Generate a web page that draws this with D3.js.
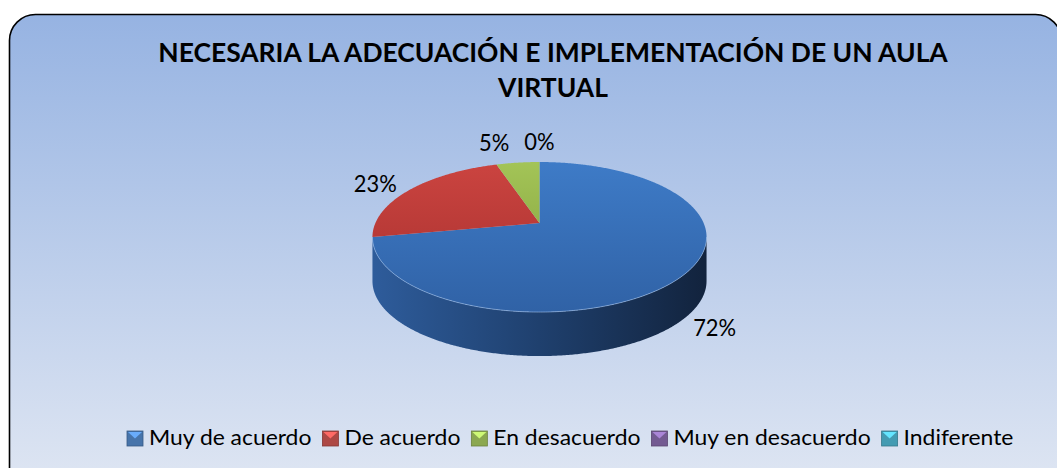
<!DOCTYPE html>
<html><head><meta charset="utf-8">
<script src="https://cdn.jsdelivr.net/npm/d3@7"></script>
<style>body{margin:0;background:#fff}</style>
</head><body>
<svg id="c" width="1057" height="468"></svg>
<script>
// ---- data ----
const titleLines = ["NECESARIA LA ADECUACIÓN E IMPLEMENTACIÓN DE UN AULA", "VIRTUAL"];
const categories = ["Muy de acuerdo", "De acuerdo", "En desacuerdo", "Muy en desacuerdo", "Indiferente"];
const values = [72, 23, 5, 0, null];
const valueLabels = ["72%", "23%", "5%", "0%", ""];
const baseColors = ["#4f81bd", "#c0504d", "#9bbb59", "#8064a2", "#4bacc6"];
const topColors = [["#3e7bc7", "#3062a6"], ["#cb4440", "#a52f2d"], ["#a3c457", "#7e9b38"], ["#8a6db0", "#5f4680"], ["#56b8d2", "#2f8aa3"]];
const sideColors = [["#2e5c9b", "#1f406e", "#12233d"], ["#9c2d2a", "#76201f", "#4a1312"], ["#7a9a39", "#5b7429", "#3a4b1a"], ["#5f4680", "#46335f", "#2c203c"], ["#2f8aa3", "#226577", "#15404c"]];

const FONT = "Lato, 'Open Sans', sans-serif";
const svg = d3.select("#c");
const defs = svg.append("defs");

function measure(str, size, weight) {
  const t = svg.append("text").attr("font-family", FONT).attr("font-size", size)
    .attr("font-weight", weight || "normal").text(str);
  const w = t.node().getComputedTextLength(); t.remove(); return w;
}
const CAP = 0.7165; // Lato cap-height ratio

// ---- background box ----
const bg = defs.append("linearGradient").attr("id", "bg").attr("gradientUnits", "userSpaceOnUse")
  .attr("x1", 0).attr("y1", 14).attr("x2", 0).attr("y2", 468);
bg.append("stop").attr("offset", 0).attr("stop-color", "#96b3e2");
bg.append("stop").attr("offset", 1).attr("stop-color", "#dce4f2");
svg.append("rect").attr("x", 9.5).attr("y", 14.5).attr("width", 1052).attr("height", 490).attr("rx", 26)
  .attr("fill", "url(#bg)").attr("stroke", "#000").attr("stroke-width", 1.6);

// ---- title ----
const titleW = 790, titleCX = 553;
const tfs = 24 * titleW / measure(titleLines[0], 24, "bold");
const tsy = 19 / (CAP * tfs);
titleLines.forEach((line, i) => {
  svg.append("text").attr("transform", `translate(${titleCX},${62 + i * 35}) scale(1,${tsy})`)
    .attr("text-anchor", "middle").attr("font-family", FONT).attr("font-weight", "bold")
    .attr("font-size", tfs).attr("fill", "#000").text(line);
});

// ---- 3D pie with perspective ----
const cx = 539.5, cy = 223, rxs = 164.1, rys = 72.4, persp = 0.187, depth = 44;
const data = categories.map((c, i) => ({ c, v: values[i], i })).filter(d => d.v !== null);
const arcs = d3.pie().sort(null).value(d => d.v).startAngle(0).endAngle(2 * Math.PI)(data);
// project a point of the unit circle (angle clockwise from 12 o'clock)
const P = (a, dy = 0) => {
  const s = Math.sin(a), c = Math.cos(a), w = 1 + persp * c;
  return [cx + rxs * s / w, cy - rys * c / w + dy];
};
const sample = (a0, a1, dy = 0) => {
  const n = Math.max(2, Math.ceil(Math.abs(a1 - a0) / (Math.PI / 360)));
  return d3.range(n + 1).map(k => P(a0 + (a1 - a0) * k / n, dy));
};
const line = d3.line();
const silL = Math.acos(-persp), silR = 2 * Math.PI - Math.acos(-persp); // silhouette angles

arcs.forEach(a => {
  const i = a.data.i;
  const sg = defs.append("linearGradient").attr("id", "side" + i).attr("gradientUnits", "userSpaceOnUse")
    .attr("x1", cx - 167).attr("y1", 0).attr("x2", cx + 167).attr("y2", 0);
  sideColors[i].forEach((col, k) => sg.append("stop").attr("offset", k / 2).attr("stop-color", col));
  const tg = defs.append("linearGradient").attr("id", "top" + i).attr("gradientUnits", "userSpaceOnUse")
    .attr("x1", 0).attr("y1", 162).attr("x2", 0).attr("y2", 312);
  tg.append("stop").attr("offset", 0).attr("stop-color", topColors[i][0]);
  tg.append("stop").attr("offset", 1).attr("stop-color", topColors[i][1]);
});

const g = svg.append("g");
// visible side walls
arcs.forEach(a => {
  const s = Math.max(a.startAngle, silL), e = Math.min(a.endAngle, silR);
  if (e <= s) return;
  const pts = sample(s, e).concat(sample(e, s, depth));
  g.append("path").attr("d", line(pts) + "Z").attr("fill", `url(#side${a.data.i})`);
});
// top faces
arcs.forEach(a => {
  if (a.endAngle - a.startAngle <= 0) return;
  const pts = [[cx, cy]].concat(sample(a.startAngle, a.endAngle));
  g.append("path").attr("d", line(pts) + "Z").attr("fill", `url(#top${a.data.i})`);
});
// rim highlight
g.append("path").attr("d", line(sample(silL, silR)))
  .attr("fill", "none").attr("stroke", "rgba(170,200,240,0.55)").attr("stroke-width", 1);

// ---- data labels ----
const lfs = 24 * 43 / measure("72%", 24);
const lH = 17, lsy = lH / (CAP * lfs);
const labs = arcs.map(a => {
  const m = (a.startAngle + a.endAngle) / 2;
  const c = Math.cos(m), s = Math.sin(m);
  const p = P(m, c < 0 ? depth : 0);
  return {
    text: valueLabels[a.data.i],
    x: p[0] + 41 * s,
    y: p[1] - 21 * c * Math.abs(c) + lH / 2,
    w: measure(valueLabels[a.data.i], lfs)
  };
});
for (let k = labs.length - 2; k >= 0; k--) {
  const a = labs[k], b = labs[k + 1];
  if (Math.abs(a.y - b.y) < 20 && Math.abs(a.x - b.x) < (a.w + b.w) / 2 + 15) {
    a.x = b.x - (a.w + b.w) / 2 - 15;
  }
}
labs.forEach(l => {
  svg.append("text").attr("transform", `translate(${l.x},${l.y}) scale(1,${lsy})`)
    .attr("text-anchor", "middle").attr("font-family", FONT).attr("font-size", lfs)
    .attr("fill", "#000").text(l.text);
});

// ---- legend ----
const legLeft = 127, legTotal = 887, mW = 16, mH = 15, mGap = 6, iGap = 11, legBase = 445;
const rawTotal = categories.reduce((s, c) => s + measure(c, 20), 0);
const gfs = 20 * (legTotal - categories.length * (mW + mGap) - (categories.length - 1) * iGap) / rawTotal;
const gsy = 15.7 / (CAP * gfs);
let lx = legLeft;
categories.forEach((c, i) => {
  const col = d3.color(baseColors[i]);
  const y0 = 431;
  svg.append("rect").attr("x", lx).attr("y", y0).attr("width", mW).attr("height", mH)
    .attr("fill", col.darker(0.3)).attr("stroke", col.darker(1)).attr("stroke-width", 0.8);
  svg.append("path").attr("d", `M${lx + 1},${y0 + 1}L${lx + mW - 1},${y0 + 1}L${lx + mW / 2},${y0 + mH / 2}Z`)
    .attr("fill", col.brighter(0.8));
  const w = measure(c, gfs);
  svg.append("text").attr("transform", `translate(${lx + mW + mGap},${legBase}) scale(1,${gsy})`)
    .attr("font-family", FONT).attr("font-size", gfs).attr("fill", "#000").text(c);
  lx += mW + mGap + w + iGap;
});
</script>
</body></html>
